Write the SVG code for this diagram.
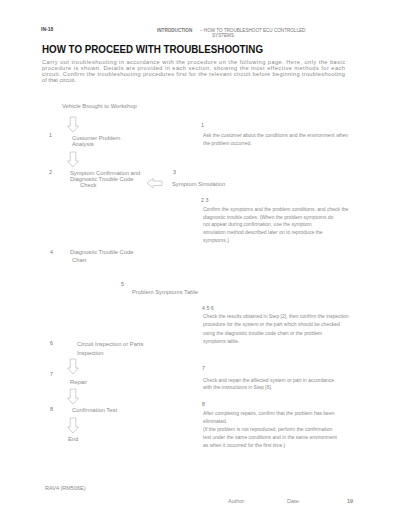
<svg xmlns="http://www.w3.org/2000/svg" width="400" height="518" viewBox="0 0 400 518">
<style>
text{font-family:"Liberation Sans",Arial,sans-serif;fill:#8c8c8c}
.hd{font-size:4.6px;fill:#777}
.hdb{font-size:5px;font-weight:bold;fill:#444}
.title{font-size:10px;font-weight:bold;fill:#111}
.p{font-size:5.7px}
.fl{font-size:5.8px}
.num{font-size:5.3px;fill:#777}
.r{font-size:5px}
.ft{font-size:5.5px}
.arw{fill:#fff;stroke:#c4c4c4;stroke-width:0.8}
</style>
<defs>
<path id="darrow" d="M-2.8,0 L2.8,0 L2.8,9 L5.5,9 L0,15 L-5.5,9 L-2.8,9 Z"/>
</defs>
<rect width="400" height="518" fill="#fff"/>

<g id="header">
<text class="hdb" x="41" y="31">IN-18</text>
<text class="hd" x="157" y="32" font-weight="bold">INTRODUCTION</text>
<text class="hd" x="200" y="32">– HOW TO TROUBLESHOOT ECU CONTROLLED</text>
<text class="hd" x="212" y="37">SYSTEMS</text>
</g>

<g id="title">
<text class="title" x="42" y="53" textLength="221" lengthAdjust="spacingAndGlyphs">HOW TO PROCEED WITH TROUBLESHOOTING</text>
</g>

<g id="intro">
<text class="p" x="42" y="63.5" textLength="303" lengthAdjust="spacing">Carry out troubleshooting in accordance with the procedure on the following page. Here, only the basic</text>
<text class="p" x="42" y="69.5" textLength="303" lengthAdjust="spacing">procedure is shown. Details are provided in each section, showing the most effective methods for each</text>
<text class="p" x="42" y="76" textLength="303" lengthAdjust="spacing">circuit. Confirm the troubleshooting procedures first for the relevant circuit before beginning troubleshooting</text>
<text class="p" x="42" y="82">of that circuit.</text>
</g>

<g id="connectors">
<use href="#darrow" class="arw" transform="translate(73,117)"/>
<use href="#darrow" class="arw" transform="translate(73,152)"/>
<use href="#darrow" class="arw" transform="translate(73,359)"/>
<use href="#darrow" class="arw" transform="translate(73,389)"/>
<use href="#darrow" class="arw" transform="translate(73,418)"/>
<path class="arw" d="M147,183 L153,178.5 L153,181 L162,181 L162,185.5 L153,185.5 L153,188 Z"/>
</g>

<g id="start">
<text class="fl" x="62" y="108">Vehicle Brought to Workshop</text>
</g>

<g id="step1">
<text class="num" x="49" y="137">1</text>
<text class="fl" x="72" y="140">Customer Problem</text>
<text class="fl" x="72" y="146">Analysis</text>
</g>

<g id="step2">
<text class="num" x="49" y="174">2</text>
<text class="fl" x="70" y="174.5">Symptom Confirmation and</text>
<text class="fl" x="70" y="180.5">Diagnostic Trouble Code</text>
<text class="fl" x="80" y="186.5">Check</text>
</g>

<g id="step3">
<text class="num" x="173" y="174">3</text>
<text class="fl" x="172" y="186">Symptom Simulation</text>
</g>

<g id="step4">
<text class="num" x="50" y="254">4</text>
<text class="fl" x="70" y="254">Diagnostic Trouble Code</text>
<text class="fl" x="72" y="262">Chart</text>
</g>

<g id="step5">
<text class="num" x="121" y="286">5</text>
<text class="fl" x="132" y="294">Problem Symptoms Table</text>
</g>

<g id="step6">
<text class="num" x="50" y="345">6</text>
<text class="fl" x="77" y="346">Circuit Inspection or Parts</text>
<text class="fl" x="77" y="355">Inspection</text>
</g>

<g id="step7">
<text class="num" x="50" y="376">7</text>
<text class="fl" x="70" y="384">Repair</text>
</g>

<g id="step8">
<text class="num" x="50" y="411">8</text>
<text class="fl" x="72" y="412">Confirmation Test</text>
</g>

<g id="end">
<text class="fl" x="68" y="441">End</text>
</g>

<g id="desc1">
<text class="num" x="201" y="127">1</text>
<text class="r" x="203" y="137">Ask the customer about the conditions and the environment when</text>
<text class="r" x="203" y="145">the problem occurred.</text>
</g>

<g id="desc23">
<text class="num" x="201" y="202">2 3</text>
<text class="r" x="203" y="211">Confirm the symptoms and the problem conditions, and check the</text>
<text class="r" x="203" y="219">diagnostic trouble codes. (When the problem symptoms do</text>
<text class="r" x="203" y="226">not appear during confirmation, use the symptom</text>
<text class="r" x="203" y="234">simulation method described later on to reproduce the</text>
<text class="r" x="203" y="242">symptoms.)</text>
</g>

<g id="desc456">
<text class="num" x="202" y="310">4 5 6</text>
<text class="r" x="203" y="318">Check the results obtained in Step [2], then confirm the inspection</text>
<text class="r" x="203" y="326">procedure for the system or the part which should be checked</text>
<text class="r" x="203" y="335">using the diagnostic trouble code chart or the problem</text>
<text class="r" x="203" y="343">symptoms table.</text>
</g>

<g id="desc7">
<text class="num" x="202" y="370">7</text>
<text class="r" x="203" y="382">Check and repair the affected system or part in accordance</text>
<text class="r" x="203" y="389">with the instructions in Step [6].</text>
</g>

<g id="desc8">
<text class="num" x="202" y="406">8</text>
<text class="r" x="203" y="415">After completing repairs, confirm that the problem has been</text>
<text class="r" x="203" y="423">eliminated.</text>
<text class="r" x="203" y="431">(If the problem is not reproduced, perform the confirmation</text>
<text class="r" x="203" y="439">test under the same conditions and in the same environment</text>
<text class="r" x="203" y="447">as when it occurred for the first time.)</text>
</g>

<g id="footer">
<text class="ft" x="45" y="490">RAV4 (RM506E)</text>
<text class="ft" x="228" y="503">Author:</text>
<text class="ft" x="287" y="503">Date:</text>
<text class="ft" x="347" y="503" font-weight="bold" fill="#333">19</text>
</g>
</svg>
